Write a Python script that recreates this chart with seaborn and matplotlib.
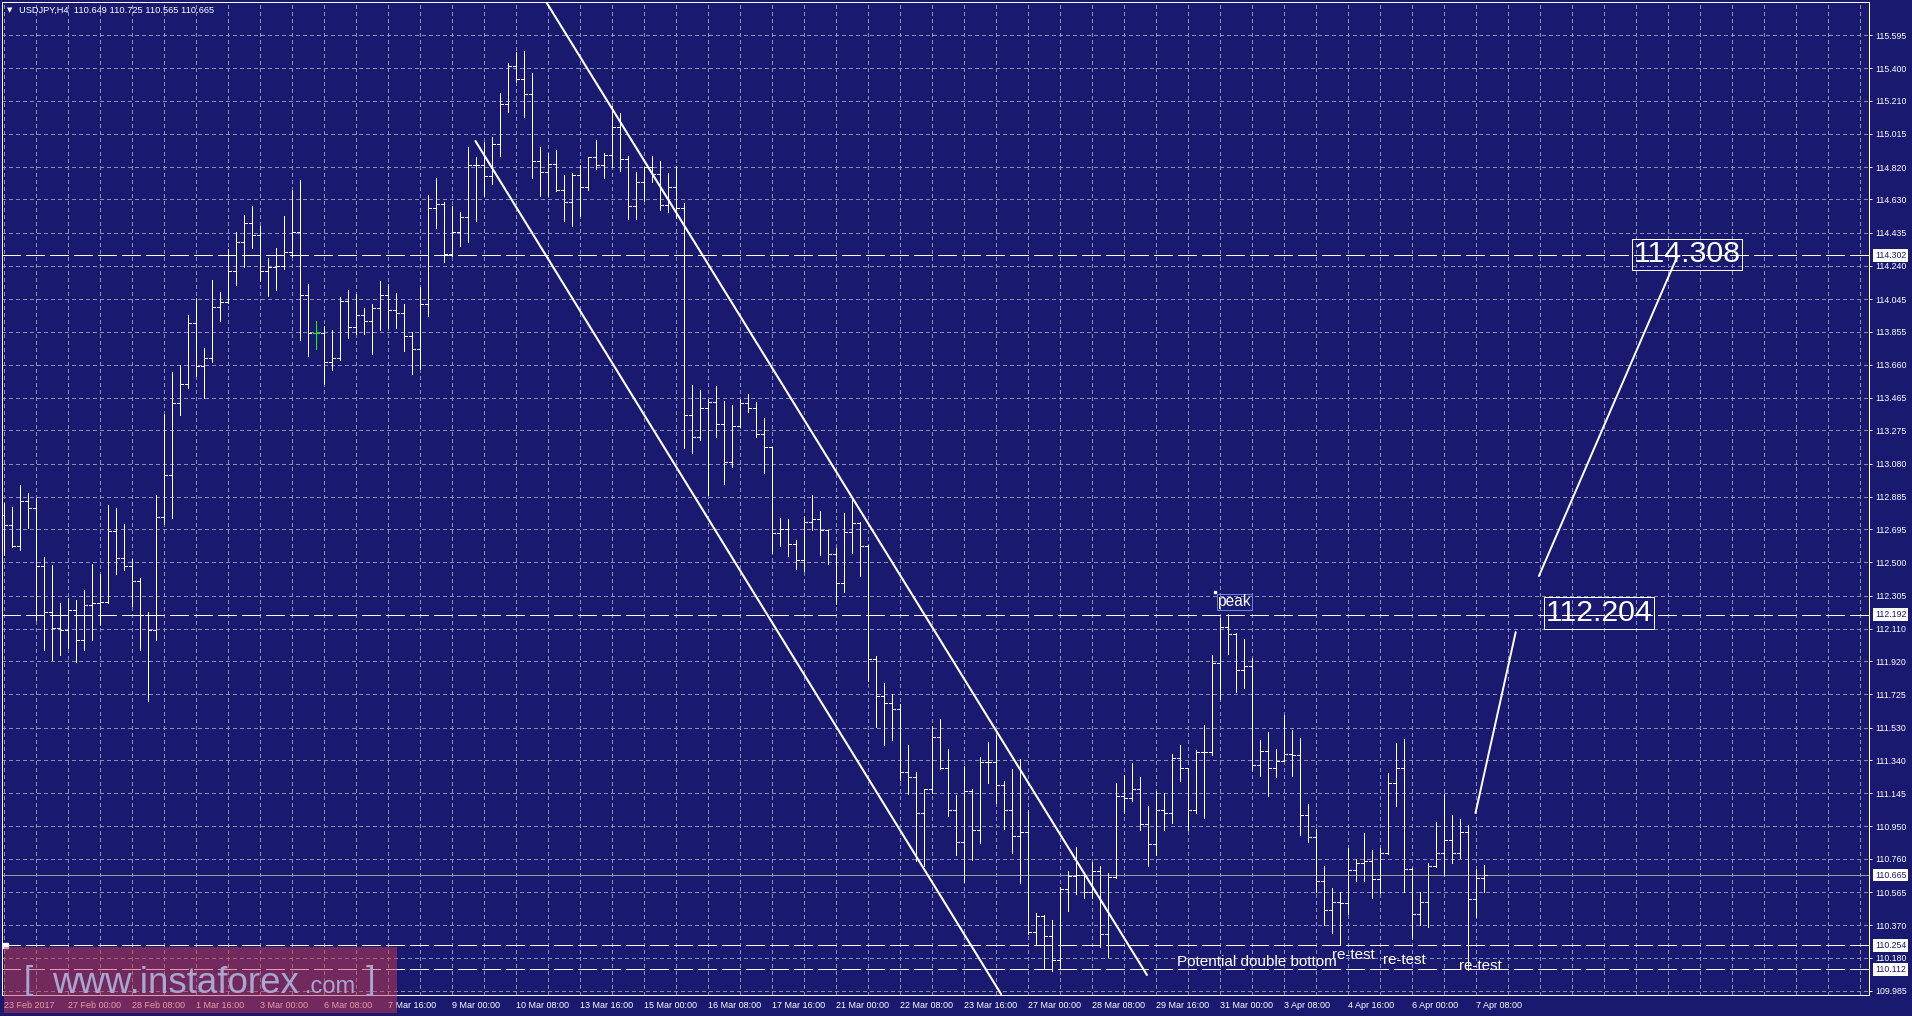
import numpy as np
import pandas as pd
import matplotlib
matplotlib.use("Agg")
import matplotlib.pyplot as plt
import matplotlib.transforms as mtransforms
from matplotlib.patches import Rectangle
import seaborn as sns

# ---------------- data ----------------
symbol_header = "USDJPY,H4  110.649 110.725 110.565 110.665"

time_labels = ["23 Feb 2017", "27 Feb 00:00", "28 Feb 08:00", "1 Mar 16:00", "3 Mar 00:00",
               "6 Mar 08:00", "7 Mar 16:00", "9 Mar 00:00", "10 Mar 08:00", "13 Mar 16:00",
               "15 Mar 00:00", "16 Mar 08:00", "17 Mar 16:00", "21 Mar 00:00", "22 Mar 08:00",
               "23 Mar 16:00", "27 Mar 00:00", "28 Mar 08:00", "29 Mar 16:00", "31 Mar 00:00",
               "3 Apr 08:00", "4 Apr 16:00", "6 Apr 00:00", "7 Apr 08:00"]

opens = [112.778, 112.720, 112.596, 112.860, 112.819, 112.479, 112.208, 112.115, 112.103, 112.220,
         112.044, 112.250, 112.261, 112.267, 112.684, 112.526, 112.479, 112.390, 112.191, 112.103,
         112.766, 113.013, 113.435, 113.547, 113.904, 113.653, 113.699, 113.999, 114.028, 114.210,
         114.380, 114.491, 114.422, 114.210, 114.234, 114.240, 114.321, 114.439, 114.070, 113.846,
         113.846, 113.676, 113.699, 114.034, 113.881, 113.952, 113.916, 113.993, 114.070, 113.981,
         113.964, 113.828, 113.752, 114.017, 114.580, 114.603, 114.310, 114.439, 114.527, 114.832,
         114.832, 114.768, 114.955, 115.190, 115.413, 115.337, 115.249, 114.855, 114.791, 114.838,
         114.685, 114.615, 114.774, 114.703, 114.879, 114.832, 114.891, 115.055, 114.867, 114.592,
         114.733, 114.821, 114.780, 114.597, 114.703, 114.580, 113.365, 113.236, 113.406, 113.441,
         113.312, 113.089, 113.300, 113.435, 113.406, 113.253, 113.177, 112.672, 112.696, 112.608,
         112.514, 112.737, 112.755, 112.690, 112.549, 112.379, 112.678, 112.731, 112.596, 111.933,
         111.716, 111.675, 111.640, 111.270, 111.240, 111.029, 111.170, 111.475, 111.293, 111.047,
         110.859, 111.158, 110.929, 111.328, 111.328, 111.194, 111.047, 110.894, 110.918, 110.331,
         110.425, 110.307, 110.166, 110.583, 110.659, 110.665, 110.565, 110.689, 110.319, 110.653,
         111.129, 111.117, 111.170, 110.965, 110.847, 111.047, 111.029, 111.352, 111.293, 111.047,
         111.387, 111.387, 111.909, 112.121, 112.080, 111.868, 111.892, 111.311, 111.393, 111.293,
         111.334, 111.375, 111.369, 111.018, 110.888, 110.630, 110.460, 110.507, 110.501, 110.694,
         110.735, 110.747, 110.642, 110.794, 111.205, 111.293, 110.700, 110.437, 110.507, 110.718,
         110.794, 110.871, 110.794, 110.918, 110.524, 110.649]

highs = [112.848, 112.825, 112.954, 112.907, 112.878, 112.532, 112.485, 112.261, 112.291, 112.279,
         112.338, 112.491, 112.432, 112.837, 112.819, 112.726, 112.520, 112.408, 112.208, 112.896,
         113.371, 113.617, 113.659, 113.952, 114.052, 113.758, 114.157, 114.087, 114.339, 114.439,
         114.539, 114.592, 114.474, 114.286, 114.345, 114.533, 114.685, 114.744, 114.134, 113.916,
         113.887, 113.864, 114.058, 114.099, 114.076, 113.993, 114.017, 114.151, 114.134, 114.081,
         114.017, 113.852, 114.116, 114.656, 114.756, 114.615, 114.592, 114.556, 114.938, 114.879,
         114.967, 114.997, 115.254, 115.431, 115.495, 115.501, 115.372, 114.938, 114.903, 114.920,
         114.774, 114.785, 114.832, 114.879, 114.979, 114.903, 115.178, 115.137, 114.885, 114.791,
         114.821, 114.885, 114.855, 114.785, 114.826, 114.609, 113.541, 113.512, 113.459, 113.535,
         113.447, 113.424, 113.459, 113.488, 113.441, 113.347, 113.177, 112.760, 112.755, 112.631,
         112.772, 112.895, 112.801, 112.690, 112.584, 112.790, 112.878, 112.737, 112.602, 111.950,
         111.792, 111.727, 111.669, 111.428, 111.270, 111.170, 111.540, 111.581, 111.405, 111.135,
         111.305, 111.170, 111.358, 111.446, 111.487, 111.217, 111.287, 111.346, 111.047, 110.442,
         110.431, 110.401, 110.595, 110.688, 110.830, 110.677, 110.741, 110.718, 110.677, 111.205,
         111.252, 111.323, 111.240, 111.071, 111.158, 111.147, 111.375, 111.428, 111.293, 111.399,
         111.546, 111.957, 112.174, 112.197, 112.085, 112.050, 111.938, 111.457, 111.505, 111.405,
         111.604, 111.516, 111.469, 111.082, 110.935, 110.718, 110.589, 110.565, 110.824, 110.759,
         110.912, 110.812, 110.824, 111.264, 111.440, 111.463, 110.706, 110.565, 110.735, 110.976,
         111.141, 111.018, 110.994, 110.959, 110.700, 110.725]

lows = [112.544, 112.590, 112.573, 112.702, 112.162, 111.986, 111.927, 111.957, 111.997, 111.915,
        111.986, 112.044, 112.133, 112.261, 112.432, 112.455, 112.244, 111.986, 111.686, 112.044,
        112.726, 112.760, 113.365, 113.523, 113.594, 113.465, 113.676, 113.916, 114.022, 114.128,
        114.234, 114.345, 114.151, 114.064, 114.099, 114.222, 114.292, 113.805, 113.711, 113.752,
        113.547, 113.629, 113.688, 113.817, 113.841, 113.841, 113.723, 113.864, 113.876, 113.876,
        113.740, 113.605, 113.635, 113.946, 114.462, 114.263, 114.298, 114.357, 114.380, 114.503,
        114.650, 114.721, 114.885, 115.143, 115.319, 115.114, 114.756, 114.650, 114.650, 114.680,
        114.503, 114.474, 114.533, 114.685, 114.809, 114.756, 114.821, 114.797, 114.515, 114.515,
        114.621, 114.733, 114.568, 114.556, 114.521, 113.171, 113.142, 113.218, 112.895, 113.236,
        112.960, 113.060, 113.294, 113.383, 113.236, 113.025, 112.555, 112.596, 112.538, 112.461,
        112.449, 112.690, 112.544, 112.491, 112.256, 112.326, 112.555, 112.420, 111.804, 111.534,
        111.428, 111.457, 111.223, 111.141, 110.747, 110.718, 111.147, 111.287, 111.012, 110.783,
        110.624, 110.753, 110.853, 111.205, 111.088, 110.935, 110.795, 110.618, 110.319, 110.255,
        110.114, 110.102, 110.114, 110.454, 110.554, 110.530, 110.530, 110.243, 110.184, 110.648,
        111.029, 111.100, 110.929, 110.718, 110.783, 110.929, 110.971, 111.217, 110.929, 111.029,
        111.000, 111.369, 111.698, 111.962, 111.739, 111.763, 111.276, 111.246, 111.129, 111.240,
        111.334, 111.246, 110.900, 110.859, 110.565, 110.372, 110.325, 110.260, 110.437, 110.630,
        110.630, 110.530, 110.560, 110.789, 111.071, 110.565, 110.290, 110.372, 110.360, 110.712,
        110.665, 110.735, 110.765, 110.108, 110.419, 110.565]

closes = [112.720, 112.596, 112.860, 112.819, 112.479, 112.208, 112.115, 112.103, 112.220, 112.044,
          112.250, 112.261, 112.267, 112.684, 112.526, 112.479, 112.390, 112.191, 112.103, 112.766,
          113.013, 113.435, 113.547, 113.904, 113.653, 113.699, 113.999, 114.028, 114.210, 114.380,
          114.491, 114.422, 114.210, 114.234, 114.240, 114.321, 114.439, 114.070, 113.846, 113.846,
          113.676, 113.699, 114.034, 113.881, 113.952, 113.916, 113.993, 114.070, 113.981, 113.964,
          113.828, 113.752, 114.017, 114.580, 114.603, 114.310, 114.439, 114.527, 114.832, 114.832,
          114.768, 114.955, 115.190, 115.413, 115.337, 115.249, 114.855, 114.791, 114.838, 114.685,
          114.615, 114.774, 114.703, 114.879, 114.832, 114.891, 115.055, 114.867, 114.592, 114.733,
          114.821, 114.780, 114.597, 114.703, 114.580, 113.365, 113.236, 113.406, 113.441, 113.312,
          113.089, 113.300, 113.435, 113.406, 113.253, 113.177, 112.672, 112.696, 112.608, 112.514,
          112.737, 112.755, 112.690, 112.549, 112.379, 112.678, 112.731, 112.596, 111.933, 111.716,
          111.675, 111.640, 111.270, 111.240, 111.029, 111.170, 111.475, 111.293, 111.047, 110.859,
          111.158, 110.929, 111.328, 111.328, 111.194, 111.047, 110.894, 110.918, 110.331, 110.425,
          110.307, 110.166, 110.583, 110.659, 110.665, 110.565, 110.689, 110.319, 110.653, 111.129,
          111.117, 111.170, 110.965, 110.847, 111.047, 111.029, 111.352, 111.293, 111.047, 111.387,
          111.387, 111.909, 112.121, 112.080, 111.868, 111.892, 111.311, 111.393, 111.293, 111.334,
          111.375, 111.369, 111.018, 110.888, 110.630, 110.460, 110.507, 110.501, 110.694, 110.735,
          110.747, 110.642, 110.794, 111.205, 111.293, 110.700, 110.437, 110.507, 110.718, 110.794,
          110.871, 110.794, 110.918, 110.524, 110.649, 110.665]

price_ticks = [115.595, 115.400, 115.210, 115.015, 114.820, 114.630, 114.435, 114.240, 114.045,
               113.855, 113.660, 113.465, 113.275, 113.080, 112.885, 112.695, 112.500, 112.305,
               112.110, 111.920, 111.725, 111.530, 111.340, 111.145, 110.950, 110.760, 110.565,
               110.370, 110.180, 109.985]

level_lines = [114.302, 112.192, 110.254, 110.112]
current_price = 110.665
highlight_levels = [114.302, 112.192, 110.665, 110.254, 110.112]
green_bar = 39

# drawn objects (bar index, price)
channel_bar = [67.8, 142.9, 58.97, 124.66]
channel_price = [115.79, 110.079, 114.973, 109.967]
channel_id = ["upper", "upper", "lower", "lower"]
proj_bar = [183.97, 189.0, 191.9, 209.16]
proj_price = [111.029, 112.091, 112.420, 114.292]
proj_id = ["a", "a", "b", "b"]

target_texts = ["114.308", "112.204"]
target_bar = [210.4, 199.4]
target_price = [114.308, 112.204]

note_texts = ["Potential double bottom", "re-test", "re-test", "re-test"]
note_bar = [146.6, 166.0, 172.4, 181.9]
note_price = [110.134, 110.172, 110.143, 110.108]
peak_bar, peak_price = 153.8, 112.268

# ---------------- style ----------------
NAVY = "#191970"
GRID = "#8a8fb0"
PX = 0.72  # one pixel in points at 100 dpi

sns.set_style("dark", {"axes.facecolor": NAVY, "figure.facecolor": NAVY,
                       "axes.edgecolor": "white", "grid.color": GRID})
plt.rcParams["font.family"] = ["Liberation Sans", "DejaVu Sans"]
plt.rcParams["lines.scale_dashes"] = False

W, H = 1912, 1016
fig = plt.figure(figsize=(W / 100, H / 100), dpi=100)
fig.patch.set_facecolor(NAVY)
ax = fig.add_axes([2 / W, 21 / H, 1867 / W, 993 / H])
ax.set_facecolor(NAVY)

n = len(closes)
idx = np.arange(n)
colors = ["white"] * n
colors[green_bar] = "#00ff00"
TICK = 0.36

ax.vlines(idx, lows, highs, colors=colors, lw=PX, antialiased=False, zorder=5)
ax.hlines(opens, idx - TICK, idx, colors=colors, lw=PX, antialiased=False, zorder=5)
ax.hlines(closes, idx, idx + TICK, colors=colors, lw=PX, antialiased=False, zorder=5)

ax.set_xlim(-0.2125, 233.16)
ax.set_ylim(109.961, 115.789)

# axes ticks / grid
label_pos = np.arange(0, 8 * len(time_labels), 8)
ax.set_xticks(label_pos)
ax.set_xticklabels(time_labels, ha="left")
ax.set_xticks(np.arange(4, 234, 4), minor=True)
ax.yaxis.tick_right()
ax.set_yticks(price_ticks)
ax.set_yticklabels([f"{p:.3f}" for p in price_ticks])
ax.tick_params(axis="x", which="major", colors="white", length=2.5, width=PX,
               pad=1.5, labelsize=6.5, direction="out")
ax.tick_params(axis="x", which="minor", length=0)
ax.tick_params(axis="y", colors="white", length=2.2, width=PX, pad=2.2,
               labelsize=6.3, direction="out", left=False, right=True)
ax.grid(True, which="both", axis="both", color=GRID, lw=PX,
        linestyle=(0, (2.2, 2.2)), antialiased=False)
ax.set_axisbelow(True)
for s in ax.spines.values():
    s.set_color("white")
    s.set_linewidth(PX)
    s.set_visible(True)

# horizontal levels
for lv in level_lines:
    ax.axhline(lv, color="white", lw=PX, linestyle=(0, (13, 4.3)), zorder=3, antialiased=False)
ax.axhline(current_price, color="#9a9a9a", lw=PX, zorder=2, antialiased=False)
ax.plot([0.22], [level_lines[2]], marker="s", ms=3.6, color="white", zorder=4, clip_on=False)

# channel and projection lines
chan = pd.DataFrame({"bar": channel_bar, "price": channel_price, "line": channel_id})
sns.lineplot(data=chan, x="bar", y="price", units="line", estimator=None, sort=False,
             color="white", lw=1.5, ax=ax, zorder=6, legend=False)
proj = pd.DataFrame({"bar": proj_bar, "price": proj_price, "line": proj_id})
sns.lineplot(data=proj, x="bar", y="price", units="line", estimator=None, sort=False,
             color="white", lw=1.4, ax=ax, zorder=6, legend=False)
ax.set_xlabel("")
ax.set_ylabel("")
ax.set_xlim(-0.2125, 233.16)
ax.set_ylim(109.961, 115.789)

# target boxes
for t, b, p in zip(target_texts, target_bar, target_price):
    ax.text(b, p, t, fontsize=21.8, color="white", ha="center", va="center", zorder=8,
            bbox=dict(boxstyle="square,pad=0.06", fc="none", ec="white", lw=PX))

# notes
for t, b, p in zip(note_texts, note_bar, note_price):
    ax.text(b, p, t, fontsize=11 if t != "re-test" else 10.9, color="white",
            ha="left", va="baseline", zorder=8)
ax.text(peak_bar, peak_price, "peak", fontsize=11.2, color="white", ha="center", va="center",
        zorder=8, bbox=dict(boxstyle="square,pad=0.04", fc="none", ec="#6f80d8", lw=PX))
ax.plot([peak_bar - 2.35], [peak_price + 0.058], marker="s", ms=2, color="white", zorder=8)

# highlighted price labels on the right axis
btr = mtransforms.blended_transform_factory(ax.transAxes, ax.transData)
for lv in highlight_levels:
    ax.text(1.0031, lv, f"{lv:.3f}", transform=btr, fontsize=6.3, color=NAVY,
            ha="left", va="center", clip_on=False, zorder=20,
            bbox=dict(boxstyle="square,pad=0.22", fc="white", ec="none"))

# header
fig.text(19 / W, 1 - 10.5 / H, symbol_header, fontsize=6.7, color="white", va="center", ha="left")
fig.text(7 / W, 1 - 10.5 / H, "\u25BC", fontsize=5, color="white", va="center", ha="left",
         family=["DejaVu Sans"])

# watermark
fig.add_artist(Rectangle((3.6 / W, 1 - 1013 / H), 393.4 / W, 66 / H, transform=fig.transFigure,
                         facecolor=(0.80, 0.23, 0.30), alpha=0.5, edgecolor="none", zorder=10))
wm = "#a9a6cf"
fig.text(24 / W, 1 - 989 / H, "[", fontsize=24, color=wm, ha="left", va="baseline", zorder=11)
fig.text(52 / W, 1 - 993 / H, "www.instaforex", fontsize=26.5, color=wm, ha="left",
         va="baseline", zorder=11)
fig.text(305 / W, 1 - 993 / H, ".com", fontsize=17, color=wm, ha="left", va="baseline", zorder=11)
fig.text(366 / W, 1 - 989 / H, "]", fontsize=24, color=wm, ha="left", va="baseline", zorder=11)

fig.savefig("out.png", dpi=100, facecolor=NAVY)
